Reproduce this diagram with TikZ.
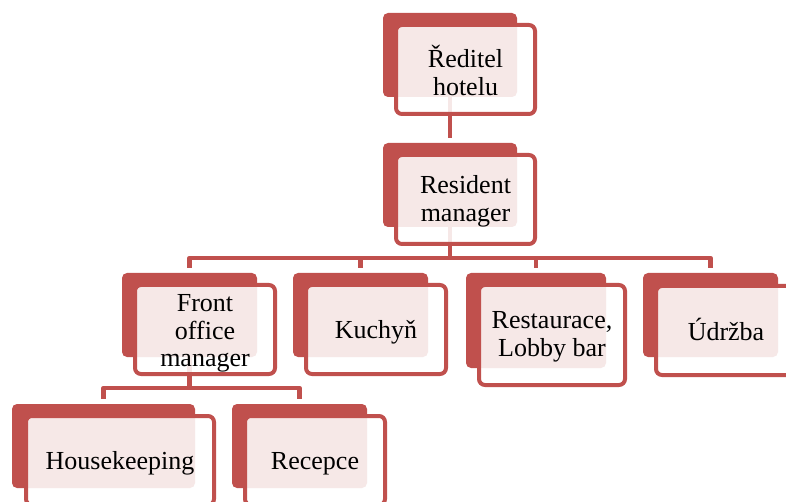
\documentclass[tikz,border=0pt]{standalone}
\usepackage{fontspec}
\setmainfont{Liberation Serif}
\definecolor{orgred}{RGB}{192,80,77}
\begin{document}
\begin{tikzpicture}[x=1pt,y=-1pt,
  backbox/.style={fill=orgred, rounded corners=5pt, inner sep=0pt, outer sep=0pt, anchor=north west},
  frontbox/.style={draw=orgred, line width=4pt, fill=white, fill opacity=0.87,
     rounded corners=6pt, inner sep=0pt, outer sep=0pt, anchor=north west},
  lbl/.style={inner sep=0pt, align=center, text=black, font=\fontsize{26}{27.5}\selectfont},
  conn/.style={draw=orgred, line width=4.5pt, line join=round, shorten >=5pt}]
\useasboundingbox (0,0) rectangle (786,502);
% back boxes
\node[backbox, minimum width=134, minimum height=84] (topb) at (383,13) {};
\node[backbox, minimum width=134, minimum height=84] (resb) at (383,143) {};
\node[backbox, minimum width=135, minimum height=84] (fomb) at (122,273) {};
\node[backbox, minimum width=135, minimum height=84] (kucb) at (293,273) {};
\node[backbox, minimum width=140, minimum height=95] (restb) at (466,273) {};
\node[backbox, minimum width=135, minimum height=84] (udrb) at (643,273) {};
\node[backbox, minimum width=183, minimum height=84] (houb) at (12,404) {};
\node[backbox, minimum width=135, minimum height=84] (recb) at (232,404) {};
% connectors
\coordinate (busA) at (0,258);
\coordinate (busB) at (0,388);
\draw[conn] (topb.south) -- (resb.north);
\draw[conn] (resb.south) -- (resb.south |- busA) -| (fomb.north);
\draw[conn] (resb.south) -- (resb.south |- busA) -| (kucb.north);
\draw[conn] (resb.south) -- (resb.south |- busA) -| (restb.north);
\draw[conn] (resb.south) -- (resb.south |- busA) -| (udrb.north);
\draw[conn] (fomb.south) -- (fomb.south |- busB) -| (houb.north);
\draw[conn] (fomb.south) -- (fomb.south |- busB) -| (recb.north);
% front boxes
\node[frontbox, minimum width=139, minimum height=89] (top) at ([shift={(13,12)}]topb.north west) {};
\node[frontbox, minimum width=139, minimum height=89] (res) at ([shift={(13,12)}]resb.north west) {};
\node[frontbox, minimum width=140, minimum height=89] (fom) at ([shift={(13,12)}]fomb.north west) {};
\node[frontbox, minimum width=140, minimum height=89] (kuc) at ([shift={(13,12)}]kucb.north west) {};
\node[frontbox, minimum width=146, minimum height=100] (rest) at ([shift={(13,12)}]restb.north west) {};
\node[frontbox, minimum width=140, minimum height=89] (udr) at ([shift={(13,13)}]udrb.north west) {};
\node[frontbox, minimum width=188, minimum height=89] (hou) at ([shift={(14,12)}]houb.north west) {};
\node[frontbox, minimum width=140, minimum height=89] (rec) at ([shift={(13,12)}]recb.north west) {};
% labels
\node[lbl] (toplbl) at ([shift={(0,1)}]top.center) {Ředitel\\hotelu};
\node[lbl] (reslbl) at ([shift={(0,2)}]res.center) {Resident\\manager};
\node[lbl] (fomlbl) at ([shift={(0,4)}]fom.center) {Front\\office\\manager};
\node[lbl] (kuclbl) at ([shift={(0,3)}]kuc.center) {Kuchyň};
\node[lbl] (restlbl) at ([shift={(0,2)}]rest.center) {Restaurace,\\Lobby bar};
\node[lbl] (udrlbl) at ([shift={(0,-1)}]udr.center) {Údržba};
\node[lbl] (houlbl) at ([shift={(0,3)}]hou.center) {Housekeeping};
\node[lbl] (reclbl) at ([shift={(0,3)}]rec.center) {Recepce};
\end{tikzpicture}
\end{document}
